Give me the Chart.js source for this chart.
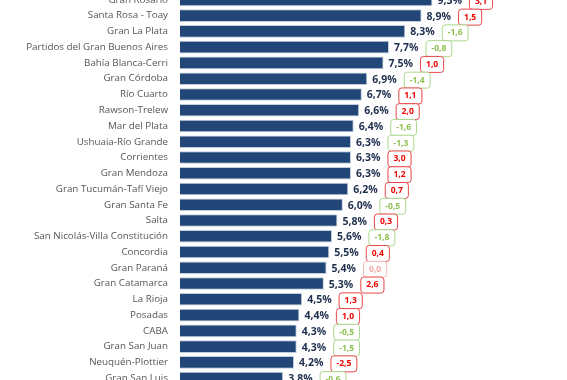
<!DOCTYPE html>
<html>
<head>
<meta charset="utf-8">
<script src="https://cdn.jsdelivr.net/npm/chart.js@4/dist/chart.umd.min.js"></script>
<style>
  html, body { margin: 0; padding: 0; background: #ffffff; overflow: hidden; width: 567px; height: 380px; }
  #wrap { position: absolute; left: 0; top: -8px; width: 567px; height: 394px; }
</style>
</head>
<body>
<div id="wrap"><canvas id="c"></canvas></div>
<script>
const categories = [
  "Gran Rosario", "Santa Rosa - Toay", "Gran La Plata", "Partidos del Gran Buenos Aires",
  "Bahía Blanca-Cerri", "Gran Córdoba", "Río Cuarto", "Rawson-Trelew", "Mar del Plata",
  "Ushuaia-Río Grande", "Corrientes", "Gran Mendoza", "Gran Tucumán-Tafí Viejo",
  "Gran Santa Fe", "Salta", "San Nicolás-Villa Constitución", "Concordia", "Gran Paraná",
  "Gran Catamarca", "La Rioja", "Posadas", "CABA", "Gran San Juan", "Neuquén-Plottier",
  "Gran San Luis"
];
const rates = [9.3, 8.9, 8.3, 7.7, 7.5, 6.9, 6.7, 6.6, 6.4, 6.3, 6.3, 6.3, 6.2, 6.0, 5.8, 5.6, 5.5, 5.4, 5.3, 4.5, 4.4, 4.3, 4.3, 4.2, 3.8];
const changes = [3.1, 1.5, -1.6, -0.8, 1.0, -1.4, 1.1, 2.0, -1.6, -1.3, 3.0, 1.2, 0.7, -0.5, 0.3, -1.8, 0.4, 0.0, 2.6, 1.3, 1.0, -0.5, -1.5, -2.5, -0.6];
const changeTone = ["up","up","down","down","up","down","up","up","down","down","up","up","up","down","up","down","up","flat","up","up","up","down","down","up","down"];

const toneStyles = {
  up:   { text: "#f00000", border: "#e8474a" },
  down: { text: "#8cc152", border: "#a9d88c" },
  flat: { text: "#f5a7a7", border: "#f5b9b9" }
};
const fmt = v => v.toFixed(1).replace(".", ",");

const labelPlugin = {
  id: "valueLabels",
  afterDatasetsDraw(chart) {
    const ctx = chart.ctx;
    const meta = chart.getDatasetMeta(0);
    ctx.save();
    meta.data.forEach((bar, i) => {
      const x = bar.x;
      const y = bar.y;
      const txt = fmt(rates[i]) + "%";
      ctx.font = "bold 10.5px 'Open Sans'";
      ctx.fillStyle = "#1f2f4e";
      ctx.textAlign = "left";
      ctx.textBaseline = "middle";
      const lx = x + 5;
      ctx.fillText(txt, lx, y + 1);
      const w = ctx.measureText(txt).width;
      const st = toneStyles[changeTone[i]];
      const ctxt = fmt(changes[i]);
      ctx.font = "bold 8.5px 'Open Sans'";
      const tw = ctx.measureText(ctxt).width;
      const bx = lx + w + 7;
      const bw = tw + 11;
      const bh = 16;
      const by = y + 1 - bh / 2;
      ctx.beginPath();
      ctx.roundRect(bx + 0.5, by + 0.5, bw, bh, 3);
      ctx.fillStyle = "#ffffff";
      ctx.fill();
      ctx.lineWidth = 1;
      ctx.strokeStyle = st.border;
      ctx.stroke();
      ctx.fillStyle = st.text;
      ctx.textAlign = "center";
      ctx.fillText(ctxt, bx + 0.5 + bw / 2, y + 1.5);
    });
    ctx.restore();
  }
};

new Chart(document.getElementById("c"), {
  type: "bar",
  data: {
    labels: categories,
    datasets: [{
      data: rates,
      backgroundColor: "#214677",
      borderColor: "#c3cedc",
      borderWidth: 1,
      categoryPercentage: 0.8,
      barPercentage: 1.0
    }]
  },
  options: {
    indexAxis: "y",
    responsive: true,
    maintainAspectRatio: false,
    animation: false,
    devicePixelRatio: 1,
    layout: { padding: { left: 0, right: 7, top: 0, bottom: 0 } },
    plugins: { legend: { display: false }, tooltip: { enabled: false } },
    scales: {
      x: { display: false, min: 0, max: 14 },
      y: {
        grid: { display: false, drawTicks: false },
        border: { display: false },
        ticks: { color: "#555555", font: { family: "'Open Sans'", size: 9.8 }, padding: 12, autoSkip: false },
        afterFit(scale) { scale.width = 180; scale.paddingTop = 0; scale.paddingBottom = 0; }
      }
    }
  },
  plugins: [labelPlugin]
});
</script>
</body>
</html>
